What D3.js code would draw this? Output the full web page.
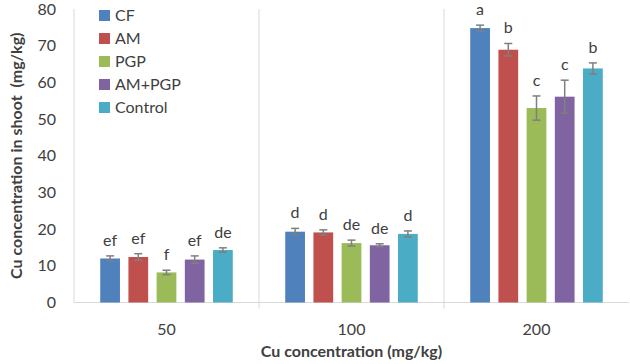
<!DOCTYPE html>
<html>
<head>
<meta charset="UTF-8">
<script src="https://d3js.org/d3.v7.min.js"></script>
<style>
  body { margin: 0; background: #fff; font-family: Lato, "Open Sans", sans-serif; }
  svg text { fill: #404040; }
</style>
</head>
<body>
<svg id="chart"></svg>
<script>
const categories = ["50", "100", "200"];
const series = ["CF", "AM", "PGP", "AM+PGP", "Control"];
const colors = ["#4f81bd", "#c0504d", "#9bbb59", "#8064a2", "#4bacc6"];
// values[series][category]
const values = [
  [12.0, 19.3, 74.8],
  [12.4, 19.1, 68.9],
  [8.2, 16.2, 53.0],
  [11.7, 15.6, 56.1],
  [14.3, 18.7, 63.8]
];
const errors = [
  [0.7, 0.9, 0.8],
  [0.9, 0.7, 1.7],
  [0.6, 0.8, 3.3],
  [1.0, 0.4, 4.5],
  [0.6, 0.8, 1.5]
];
const letters = [
  ["ef", "d", "a"],
  ["ef", "d", "b"],
  ["f", "de", "c"],
  ["ef", "de", "c"],
  ["de", "d", "b"]
];
const yTicks = [0, 10, 20, 30, 40, 50, 60, 70, 80];

const W = 630, H = 364;
const pLeft = 74, pRight = 629, pTop = 9, pBottom = 302.5;

const svg = d3.select("#chart").attr("width", W).attr("height", H);

const x0 = d3.scaleBand().domain(categories).range([pLeft, pRight]);
const x1 = d3.scaleBand().domain(series).range([22, 163]).paddingInner(0.3).paddingOuter(0.15);
const y = d3.scaleLinear().domain([0, 80]).range([pBottom, pTop]);

// axis lines
svg.append("line").attr("x1", pLeft).attr("x2", pLeft).attr("y1", pTop).attr("y2", pBottom)
  .attr("stroke", "#d9d9d9");
svg.append("line").attr("x1", pLeft).attr("x2", pRight).attr("y1", pBottom).attr("y2", pBottom)
  .attr("stroke", "#d9d9d9");
// category separators
svg.selectAll(".sep").data(categories.slice(1)).enter().append("line")
  .attr("x1", d => x0(d)).attr("x2", d => x0(d))
  .attr("y1", pTop).attr("y2", pBottom + 6)
  .attr("stroke", "#d9d9d9");

// y tick labels
svg.selectAll(".ytick").data(yTicks).enter().append("text")
  .attr("x", 56).attr("y", d => y(d)).attr("dy", "0.35em")
  .attr("text-anchor", "end").style("font-size", "16px")
  .text(d => d);

// x tick labels
svg.selectAll(".xtick").data(categories).enter().append("text")
  .attr("x", d => x0(d) + x0.bandwidth() / 2).attr("y", 335)
  .attr("text-anchor", "middle").style("font-size", "16px")
  .text(d => d);

// bars
const rows = [];
series.forEach((s, i) => categories.forEach((c, j) => rows.push({
  s, c, i, v: values[i][j], e: errors[i][j], l: letters[i][j]
})));

const gx = d => x0(d.c) + x1(d.s);
svg.selectAll(".bar").data(rows).enter().append("rect")
  .attr("x", gx).attr("width", x1.bandwidth())
  .attr("y", d => y(d.v)).attr("height", d => y(0) - y(d.v))
  .attr("fill", d => colors[d.i]);

// error bars
const cx = d => gx(d) + x1.bandwidth() / 2;
const eb = svg.selectAll(".err").data(rows).enter().append("g")
  .attr("stroke", "#7f7f7f").attr("stroke-width", 1.5);
eb.append("line")
  .attr("x1", cx).attr("x2", cx)
  .attr("y1", d => y(d.v + d.e)).attr("y2", d => y(d.v - d.e));
eb.append("line")
  .attr("x1", d => cx(d) - 4).attr("x2", d => cx(d) + 4)
  .attr("y1", d => y(d.v + d.e)).attr("y2", d => y(d.v + d.e));
eb.append("line")
  .attr("x1", d => cx(d) - 4).attr("x2", d => cx(d) + 4)
  .attr("y1", d => y(d.v - d.e)).attr("y2", d => y(d.v - d.e));

// letters
svg.selectAll(".lbl").data(rows).enter().append("text")
  .attr("x", cx)
  .attr("y", d => y(d.v + d.e) - 10)
  .attr("text-anchor", "middle").style("font-size", "16px")
  .text(d => d.l);

// legend
const lg = svg.selectAll(".leg").data(series).enter().append("g")
  .attr("transform", (d, i) => `translate(99,${15 + i * 23})`);
lg.append("rect").attr("x", 0).attr("y", -5).attr("width", 11).attr("height", 11)
  .attr("fill", (d, i) => colors[i]);
lg.append("text").attr("x", 16).attr("y", 0).attr("dy", "0.35em")
  .style("font-size", "16px").text(d => d);

// axis titles
svg.append("text")
  .attr("x", (pLeft + pRight) / 2).attr("y", 357)
  .attr("text-anchor", "middle").style("font-size", "16px").style("font-weight", "bold")
  .text("Cu concentration (mg/kg)");
svg.append("text")
  .attr("transform", `translate(22,${(pTop + pBottom) / 2}) rotate(-90)`)
  .attr("text-anchor", "middle").style("font-size", "16px").style("font-weight", "bold")
  .style("white-space", "pre")
  .text("Cu concentration in shoot  (mg/kg)");
</script>
</body>
</html>
